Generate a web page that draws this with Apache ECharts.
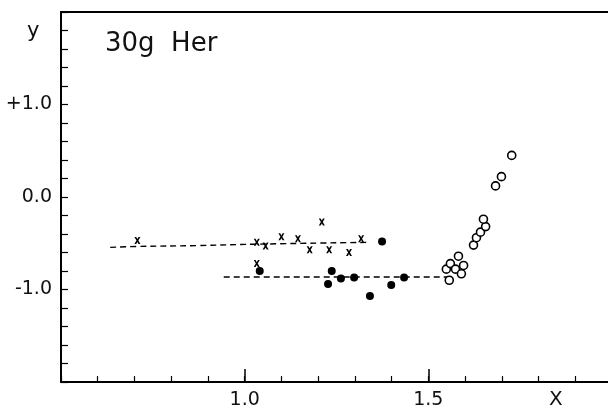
<!DOCTYPE html>
<html>
<head>
<meta charset="utf-8">
<script src="https://cdn.jsdelivr.net/npm/echarts@6/dist/echarts.min.js"></script>
<style>
  html, body { margin: 0; padding: 0; background: #fff; }
  #chart { width: 608px; height: 408px; }
</style>
</head>
<body>
<div id="chart"></div>
<script>
// 读图数据 (x = 横轴, y = 纵轴)
var crossX = [0.708, 1.033, 1.057, 1.033, 1.10, 1.145, 1.21, 1.177, 1.23, 1.284, 1.317];
var crossY = [-0.47, -0.49, -0.53, -0.72, -0.43, -0.45, -0.27, -0.57, -0.57, -0.60, -0.45];

var dotX = [1.041, 1.374, 1.237, 1.227, 1.262, 1.298, 1.341, 1.399, 1.434];
var dotY = [-0.80, -0.48, -0.80, -0.94, -0.88, -0.87, -1.07, -0.95, -0.87];

var openX = [1.549, 1.560, 1.557, 1.574, 1.582, 1.596, 1.590, 1.623, 1.631, 1.642, 1.656, 1.650, 1.683, 1.699, 1.727];
var openY = [-0.78, -0.72, -0.90, -0.78, -0.64, -0.74, -0.83, -0.52, -0.44, -0.38, -0.32, -0.24, 0.12, 0.22, 0.45];

var upperFitX = [0.634, 0.708, 0.874, 1.033, 1.339];
var upperFitY = [-0.545, -0.535, -0.525, -0.51, -0.49];

var lowerFitX = [0.943, 1.55];
var lowerFitY = [-0.865, -0.865];

var yTickLabels = {'1': '+1.0', '0': '0.0', '-1': '-1.0'};
var xTickLabels = {'1': '1.0', '1.5': '1.5'};

function pairs(xs, ys) {
    var out = [];
    for (var i = 0; i < xs.length; i++) out.push([xs[i], ys[i]]);
    return out;
}

var FONT = 'DejaVu Sans';
var crossPath = 'path://M0,0L3,0L5,3L7,0L10,0L6.6,5L10,10L7,10L5,7L3,10L0,10L3.4,5Z';

var myChart = echarts.init(document.getElementById('chart'));
var option = {
    animation: false,
    backgroundColor: '#fff',
    grid: { left: 61, top: 12, width: 551, height: 370, containLabel: false, outerBoundsMode: 'none' },
    xAxis: [
        {
            type: 'value', min: 0.5, max: 2.0, interval: 0.5,
            splitLine: { show: false },
            axisLine: { show: true, onZero: false, lineStyle: { color: '#000', width: 2 } },
            axisTick: { inside: true, length: 13, lineStyle: { color: '#000', width: 1.5 } },
            axisLabel: {
                margin: 9, color: '#111', fontFamily: FONT, fontSize: 19,
                formatter: function (v) {
                    var k = String(Math.round(v * 10) / 10);
                    return xTickLabels[k] || '';
                }
            }
        },
        {
            type: 'value', min: 0.5, max: 2.0, interval: 0.1, position: 'bottom',
            splitLine: { show: false },
            axisLine: { show: false, onZero: false },
            axisTick: { inside: true, length: 6, lineStyle: { color: '#000', width: 1.2 } },
            axisLabel: { show: false }
        },
        {
            type: 'value', min: 0.5, max: 2.0, position: 'top',
            splitLine: { show: false },
            axisLine: { show: true, onZero: false, lineStyle: { color: '#000', width: 2 } },
            axisTick: { show: false },
            axisLabel: { show: false }
        }
    ],
    yAxis: {
        type: 'value', min: -2, max: 2, interval: 0.2,
        splitLine: { show: false },
        axisLine: { show: true, onZero: false, lineStyle: { color: '#000', width: 2 } },
        axisTick: { inside: true, length: 7, lineStyle: { color: '#000', width: 1.2 } },
        axisLabel: {
            margin: 9, color: '#111', fontFamily: FONT, fontSize: 19,
            formatter: function (v) {
                var k = String(Math.round(v * 10) / 10);
                return yTickLabels[k] || '';
            }
        }
    },
    graphic: [
        { type: 'text', left: 105, top: 31, style: { text: '30g  Her', font: '26px "DejaVu Sans"', fill: '#111' } },
        { type: 'text', left: 27, top: 21, style: { text: 'y', font: '21px "DejaVu Sans"', fill: '#111' } },
        { type: 'text', left: 549, top: 390, style: { text: 'X', font: '20px "DejaVu Sans"', fill: '#111' } }
    ],
    series: [
        {
            name: 'upper fit', type: 'line', smooth: true, symbol: 'none',
            data: pairs(upperFitX, upperFitY),
            lineStyle: { color: '#000', width: 1.4, type: [6, 4] }
        },
        {
            name: 'lower fit', type: 'line', symbol: 'none',
            data: pairs(lowerFitX, lowerFitY),
            lineStyle: { color: '#000', width: 1.4, type: [6, 4] }
        },
        {
            name: 'x', type: 'scatter', symbol: crossPath, symbolSize: [6, 7],
            data: pairs(crossX, crossY),
            itemStyle: { color: '#000', opacity: 1 }
        },
        {
            name: 'dot', type: 'scatter', symbol: 'circle', symbolSize: 8,
            data: pairs(dotX, dotY),
            itemStyle: { color: '#000', opacity: 1 }
        },
        {
            name: 'open', type: 'scatter', symbol: 'circle', symbolSize: 8,
            data: pairs(openX, openY),
            itemStyle: { color: '#fff', borderColor: '#000', borderWidth: 1.6, opacity: 1 }
        }
    ]
};
myChart.setOption(option);
</script>
</body>
</html>
